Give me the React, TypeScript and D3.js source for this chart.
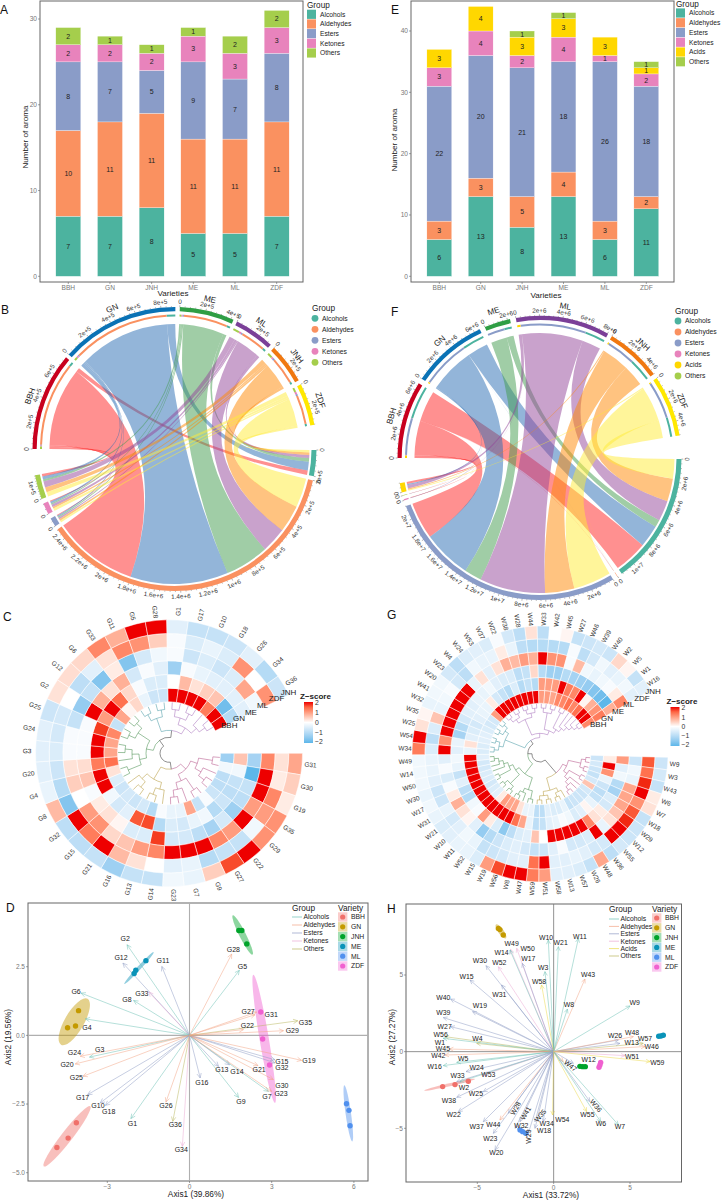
import * as d3 from 'd3';

const FONT = '"Liberation Sans", Arial, sans-serif';

// shared categories and colours
const varieties = ['BBH', 'GN', 'JNH', 'ME', 'ML', 'ZDF'];
const groupColors: Record<string, string> = {
  Alcohols: '#4CB39F',
  Aldehydes: '#FA9160',
  Esters: '#8A9CC8',
  Ketones: '#E883BC',
  Acids: '#FFD700',
  Others: '#A5CE4C',
};
const arrowColors: Record<string, string> = {
  Alcohols: '#6CC0B4',
  Aldehydes: '#F2A585',
  Esters: '#8F9CC4',
  Ketones: '#EBA9D2',
  Acids: '#EBD84A',
  Others: '#B9B65C',
};
const varietyColors: Record<string, string> = {
  BBH: '#F0706A',
  GN: '#C49A00',
  JNH: '#00A32A',
  ME: '#0A93B8',
  ML: '#5090EE',
  ZDF: '#F060D0',
};

// panels A and E: number of aroma
const groupsA = ['Alcohols', 'Aldehydes', 'Esters', 'Ketones', 'Others'];
const alcoholsA = [7, 7, 8, 5, 5, 7];
const aldehydesA = [10, 11, 11, 11, 11, 11];
const estersA = [8, 7, 5, 9, 7, 8];
const ketonesA = [2, 2, 2, 3, 3, 3];
const othersA = [2, 1, 1, 1, 2, 2];
const seriesA = [alcoholsA, aldehydesA, estersA, ketonesA, othersA];

const groupsE = ['Alcohols', 'Aldehydes', 'Esters', 'Ketones', 'Acids', 'Others'];
const alcoholsE = [6, 13, 8, 13, 6, 11];
const aldehydesE = [3, 3, 5, 4, 3, 2];
const estersE = [22, 20, 21, 18, 26, 18];
const ketonesE = [3, 4, 2, 4, 1, 2];
const acidsE = [3, 4, 3, 3, 3, 1];
const othersE = [0, 0, 1, 1, 0, 1];
const seriesE = [alcoholsE, aldehydesE, estersE, ketonesE, acidsE, othersE];

// panels B and F: chord flows, variety by group
const chordVarieties = ['BBH', 'GN', 'ME', 'ML', 'JNH', 'ZDF'];
const chordTrack: Record<string, string> = {
  BBH: '#C8001E',
  GN: '#0A72B5',
  ME: '#2F9E44',
  ML: '#7B3F98',
  JNH: '#F07810',
  ZDF: '#FFE800',
};
const chordRibbon: Record<string, string> = {
  BBH: '#FF2121',
  GN: '#276BB3',
  ME: '#419B4D',
  ML: '#934599',
  JNH: '#FF8701',
  ZDF: '#FFEB35',
};
const chordGroupsB = ['Alcohols', 'Aldehydes', 'Esters', 'Ketones', 'Others'];
// values x 1e5
const flowsB = [
  [0.35, 6.84, 0.06, 0.08, 0.2],
  [0.7, 7.9, 0.1, 0.15, 0.25],
  [0.3, 3.55, 0.1, 0.1, 0.15],
  [0.25, 2.03, 0.12, 0.2, 0.5],
  [0.2, 2.2, 0.15, 0.15, 0.4],
  [0.2, 2.35, 0.15, 0.2, 0.35],
];
const gapsB = [1.6, 1.8, 1.6, 1.8, 1.8, 10.2, 1.7, 1.6, 2, 2, 10.7];
const chordGroupsF = ['Alcohols', 'Aldehydes', 'Esters', 'Ketones', 'Others', 'Acids'];
// values x 1e6
const flowsF = [
  [3, 0.02, 3.33, 0.05, 0.03, 0.2],
  [2, 0.01, 4.38, 0.02, 0.01, 0.1],
  [0.67, 0, 1.56, 0, 0, 0],
  [1.83, 0, 5.9, 0.02, 0, 0.3],
  [2.06, 0, 2.63, 0.01, 0, 0.1],
  [1.75, 0.01, 3.4, 0, 0, 0.1],
];
const gapsF = [2.2, 2.2, 2.4, 1.8, 2, 9.6, 2, 2, 2.4, 1.5, 1.2, 10.2];

// panel C: heatmap
const genesC = ['G31', 'G30', 'G19', 'G35', 'G29', 'G22', 'G27', 'G9', 'G7', 'G23', 'G14', 'G13', 'G16', 'G21', 'G15', 'G32', 'G8', 'G4', 'G20', 'G3', 'G24', 'G25', 'G2', 'G12', 'G6', 'G33', 'G11', 'G5', 'G28', 'G1', 'G17', 'G10', 'G18', 'G26', 'G34', 'G36'];
const zBBHC = [-1.3, -0.2, -0.9, -0.9, -0.7, -0.1, -0.8, 0.9, -0.3, -0.3, -0.1, -1, -0.6, -0.7, -0.6, -0.7, -0.5, 0.3, 1.4, 0.9, 0.9, 1.2, -0.8, 0.9, 0.1, 0.4, -0.3, -0.7, -0.7, 2, 2, 2, 2, 1.3, 2, 2];
const zGNC = [0.6, -0.2, -0.8, -0.9, -0.7, -1, -0.2, -0.3, -0.6, -0.5, -1, 1.7, 1.6, -0.4, -0.6, -0.2, 2, 2, 1.3, 2, 2, 1.8, 1, 2, 1.4, 0.4, -0.1, -0.5, -0.5, 0, 0.7, 0.3, 0.5, 0.6, -1.8, -1];
const zMEC = [-1.2, -2, -0.8, -0.9, -1.3, -0.6, -1.2, -0.9, -0.6, -0.6, 1.8, -0.5, -0.5, 0.1, 0.3, 0.2, -0.1, 0.6, 0.35, -0.1, -0.1, -0.1, 2, 0.8, 0.3, 0.8, -0.6, -0.1, -0.4, -1.3, -0.1, -0.3, -0.4, -0.4, -0.4, -0.4];
const zMLC = [1.2, 2, 2, 1, 2, 1, 1.2, 2, 2, 2, 1.2, 1, 0.6, 0.4, 1.1, 1, 0, 0.5, 0.3, -0.1, -0.1, -0.8, -1.4, -0.8, -1.6, 0.2, -1.6, -0.6, -0.2, -0.1, -0.7, -0.5, -0.7, -0.5, 0.9, -0.2];
const zZDFC = [0.3, 0.2, 1.2, 1, -0.2, -0.8, -0.8, -1, -0.3, -0.4, 0, 0.3, 0.7, 2, 1.3, 2, -1.6, -1, -0.7, -0.5, -0.6, -0.6, 0, -0.9, -0.4, 0.3, 1.2, 1.1, 0.5, -0.1, -0.5, -0.3, -0.5, 1.1, 0, 1.1];
const zJNHC = [0.9, 0.5, 0.2, 1.1, 1.1, 2, 1.7, 0.5, -0.3, -0.2, -0.8, -0.8, -1.3, -0.8, -0.9, -0.9, 0.7, -0.3, -0.4, -0.4, -0.4, -0.7, 0.3, 0.35, 0.4, 1.2, 0.8, 2, 2, -0.4, -0.8, -0.8, -0.7, -0.4, -1, -0.7];
const treeC = [[[[[0, 1], [2, [3, 4]]], [[5, 6], [7, [8, 9]]]], [[10, [11, 12]], [[13, 14], 15]]], [[[[16, 17], [18, [19, 20]]], [[21, 22], [23, 24]]], [[[25, 26], [27, 28]], [[[29, 30], [31, 32]], [33, [34, 35]]]]]];
const clusterEndsC = [9, 15, 24, 28, 35];

// panel G: heatmap
const genesG = ['W9', 'W3', 'W43', 'W6', 'W7', 'W18', 'W29', 'W12', 'W55', 'W36', 'W48', 'W26', 'W57', 'W13', 'W58', 'W51', 'W59', 'W47', 'W8', 'W56', 'W19', 'W15', 'W52', 'W11', 'W10', 'W21', 'W31', 'W17', 'W30', 'W50', 'W14', 'W49', 'W34', 'W54', 'W25', 'W35', 'W32', 'W41', 'W20', 'W23', 'W4', 'W24', 'W53', 'W37', 'W22', 'W38', 'W28', 'W44', 'W33', 'W42', 'W45', 'W27', 'W46', 'W39', 'W40', 'W2', 'W5', 'W1', 'W16'];
const zBBHG = [-0.7, -0.6, -0.7, -0.8, -0.6, 0.6, -0.6, -0.7, -0.7, -0.7, -0.8, -0.3, -0.5, -0.5, -0.4, -0.9, -0.9, -0.3, -0.3, 0.3, 0.9, 0.9, 1, 0.2, -0.4, -0.5, -0.6, -0.5, -0.5, -0.6, -0.6, -0.4, -0.5, -0.5, -0.4, -0.4, -0.5, -0.6, -0.6, 1, 2, 2, 2, 2, 2, 2, 2, 2, 1, 1, 0.9, 1.2, 1.2, 1.4, 1.2, 1.4, 2, 2, 1.2];
const zGNG = [0.2, 2, 1.1, -0.3, -0.7, -0.9, -0.8, -0.3, 0.1, -0.4, -0.5, -0.2, -0.1, -0.3, -0.4, -0.8, -0.9, -0.3, 0.9, 1.4, 2, 2, 2, 2, 2, 2, 2, 2, 2, 2, 2, 2, -0.3, 0.3, -0.4, -0.5, -0.6, -0.4, -0.3, -0.3, 0.2, -0.6, -0.8, -1, -0.5, -1, -0.8, -1, 1, 1, 1, 2, 1.3, 1.2, 2, 0.1, 0.8, 1.1, 1.3];
const zMEG = [1, -0.4, -0.2, -1, -1.2, -0.5, -0.6, 0.2, 0.3, 1.2, 2, 2, 2, 2, 2, 0, 0.6, -0.4, -0.5, -0.9, -1.5, -0.5, 0.2, 1, -0.1, -0.2, -1, -0.9, -0.4, -0.8, -0.3, -0.2, -0.4, -0.3, -1.2, -1, -0.6, -0.4, -0.4, -0.3, -0.3, -0.2, -0.4, -0.5, -0.5, -0.9, -0.8, 0.4, -1, -1.3, -1.3, -1, -1.2, -1.3, -1.4, -1.6, -1.8, -2, 0.8];
const zMLG = [-0.7, -0.2, -0.3, 0.9, 0.9, 0.9, 0.6, 0.3, -0.3, 2, -0.5, -0.6, -0.6, -0.1, -0.4, -0.7, -0.8, -0.6, -0.4, -0.5, -0.7, -1, -1.4, -0.4, 0.1, 0.3, 0.8, 0.2, -0.1, -0.5, -0.1, -0.4, 2, 1.1, 2, 2, 2, 2, 2, 2, -0.3, 0.3, -0.4, 0.3, 0.8, 0.7, 1, 0.8, 2, 1.1, 1.1, -0.1, 0.7, -0.2, -0.3, -0.2, -0.1, 0.2, 1.2];
const zZDFG = [1.6, 1.4, 1.9, 2, 1.1, 1.6, 1.9, 2, 2, -0.6, -0.6, -0.4, -0.3, -0.4, -0.4, 2, 1.4, -0.4, -0.4, -0.6, -0.7, -0.8, -0.3, -0.2, -0.4, -0.6, -0.3, -0.7, -0.7, -0.4, -0.3, -0.3, -0.5, -0.9, -0.5, 0.6, -0.3, -0.2, -0.1, -0.6, -0.9, -0.2, -0.3, -0.3, 0.2, -0.3, -0.9, -1, -1, -1, -1, -0.1, -0.9, -0.6, -0.2, -0.4, -0.3, -0.2, -0.4];
const zJNHG = [-0.7, -0.6, -0.8, 0.2, 0.3, -0.8, -0.7, -0.7, -0.6, -0.9, 0.9, -0.8, -0.5, -0.4, -0.4, 1, 1.3, 2, 2, 1.7, 1, -0.5, -0.3, -0.3, -0.4, -0.5, -0.3, -0.2, -0.3, -0.2, -0.2, -0.2, 1.3, 2, 0.3, 0.1, -0.3, -0.2, -0.2, -0.6, -0.9, -0.5, -0.4, -0.5, -0.1, -0.6, -0.9, 0.3, -0.9, 0, 0.1, -0.8, -0.7, -0.6, -0.7, 0.4, 0.1, -0.8, -0.4];
const treeG = [[[[[0, 1], [2, 3]], [[4, 5], [6, [7, [8, 9]]]]], [[10, [11, 12]], [[13, 14], [15, 16]]]], [[[[17, 18], [19, [20, 21]]], [[[22, 23], [24, 25]], [[26, 27], [28, [29, [30, 31]]]]]], [[[[32, 33], [34, 35]], [[36, 37], [38, 39]]], [[[[40, 41], [42, 43]], [[44, 45], [46, 47]]], [[[48, 49], [50, 51]], [[52, 53], [54, [55, [56, [57, 58]]]]]]]]]];
const clusterEndsG = [9, 16, 31, 39, 58];
const heatRows = ['BBH', 'GN', 'ME', 'ML', 'ZDF', 'JNH'];
const zTicks = [2, 1, 0, -1, -2];

// panel D: biplot
const genesD = ['G2', 'G12', 'G11', 'G6', 'G33', 'G8', 'G4', 'G3', 'G24', 'G20', 'G25', 'G17', 'G10', 'G18', 'G1', 'G26', 'G36', 'G34', 'G16', 'G13', 'G14', 'G9', 'G21', 'G7', 'G23', 'G30', 'G15', 'G32', 'G19', 'G29', 'G35', 'G22', 'G27', 'G31', 'G5', 'G28'];
const axis1D = [-2.28, -2.43, -1.01, -3.96, -1.49, -2.04, -3.8, -3.65, -3.99, -4.17, -3.89, -3.72, -3.26, -3.07, -2.14, -0.86, -0.61, -0.26, 0.39, 1.06, 1.46, 1.79, 2.5, 2.88, 3, 3.06, 3.12, 3.12, 4.09, 3.43, 3.95, 1.97, 2.39, 2.45, 1.82, 1.54];
const axis2D = [3.3, 2.63, 2.51, 1.54, 1.58, 1.27, 0.6, -0.79, -0.76, -1.04, -1.49, -2.16, -2.46, -2.55, -3.03, -2.43, -3.13, -4.04, -1.55, -1.13, -1.07, -2.26, -1.1, -2.04, -2.04, -1.61, -0.89, -1, -0.91, 0.17, 0.53, 0.21, 0.75, 0.85, 2.37, 2.96];
const labelXD = [-2.35, -2.5, -0.97, -4.14, -1.74, -2.28, -3.74, -3.28, -4.2, -4.47, -4.13, -3.9, -3.34, -2.95, -2.08, -0.86, -0.52, -0.3, 0.45, 1.18, 1.73, 1.88, 2.54, 2.83, 3.34, 3.37, 3.37, 3.37, 4.36, 3.75, 4.23, 2.11, 2.14, 2.98, 1.93, 1.6];
const labelYD = [3.52, 2.82, 2.72, 1.58, 1.52, 1.3, 0.27, -0.5, -0.64, -1.07, -1.52, -2.28, -2.55, -2.77, -3.2, -2.55, -3.23, -4.15, -1.7, -1.25, -1.31, -2.4, -1.23, -2.23, -2.11, -1.81, -0.95, -1.17, -0.92, 0.18, 0.47, 0.36, 0.87, 0.75, 2.51, 3.12];
const membersD: Record<string, string[]> = {
  Alcohols: ['G1', 'G2', 'G3', 'G4', 'G5', 'G6', 'G7', 'G8', 'G9'],
  Aldehydes: ['G19', 'G20', 'G21', 'G22', 'G23', 'G24', 'G25', 'G26', 'G27', 'G28', 'G29', 'G30', 'G31'],
  Esters: ['G10', 'G11', 'G12', 'G13', 'G14', 'G15', 'G16', 'G17', 'G18', 'G32'],
  Ketones: ['G33', 'G34'],
  Others: ['G35', 'G36'],
};
const pointsXD = [[-4.13, -4.43, -4.84], [-4.05, -4.16, -4.45], [1.8, 1.91, 2.09], [-1.59, -1.96, -2.02], [5.73, 5.82, 5.86], [2.6, 2.67, 2.92]];
const pointsYD = [[-3.18, -3.74, -4.08], [0.9, 0.34, 0.28], [3.82, 3.82, 3.33], [2.72, 2.37, 2.25], [-2.49, -2.73, -3.29], [0.85, -0.13, -1.08]];
const ellipseTipsD = [[-5.32, -4.77, -3.62, -2.58], [-4.69, -0.34, -3.72, 1.33], [1.58, 4.37, 2.3, 2.94], [-2.38, 1.87, -1.31, 3.03], [5.65, -1.82, 5.94, -3.86], [2.33, 2.21, 3.12, -2.46]];
const ellipseWidthD = [0.2, 0.35, 0.12, 0.07, 0.1, 0.17];

// panel H: biplot
const genesH = ['W11', 'W10', 'W21', 'W49', 'W50', 'W14', 'W17', 'W30', 'W52', 'W3', 'W15', 'W58', 'W43', 'W31', 'W40', 'W19', 'W8', 'W9', 'W39', 'W27', 'W56', 'W4', 'W1', 'W45', 'W42', 'W5', 'W16', 'W24', 'W33', 'W53', 'W2', 'W25', 'W38', 'W22', 'W37', 'W44', 'W23', 'W20', 'W28', 'W41', 'W32', 'W29', 'W35', 'W34', 'W18', 'W54', 'W47', 'W12', 'W36', 'W55', 'W6', 'W7', 'W26', 'W48', 'W13', 'W57', 'W46', 'W51', 'W59'];
const axis1H = [1.62, -0.35, 0.31, -2.82, -2.42, -2.86, -2.05, -4.43, -3.62, -0.57, -5.48, -0.79, 2.05, -3.41, -6.75, -5.31, 0.9, 5, -7.23, -6.75, -7.12, -5.04, -7.23, -6.83, -7.12, -6.35, -7.23, -5.74, -6.35, -4.61, -6.14, -4.61, -6.35, -6.24, -4.61, -3.52, -3.95, -3.84, -2.97, -2.21, -2.53, -1.66, -1.22, -0.68, -1.22, -0.07, 0.63, 1.29, 2.38, 2.16, 3.08, 4.24, 4.24, 5.22, 4.34, 5.87, 5.98, 4.67, 6.31];
const axis2H = [7.39, 7.28, 6.85, 6.67, 6.74, 6.63, 5.76, 5.61, 5.54, 5.22, 4.67, 4.35, 4.74, 4.35, 3.43, 2.61, 2.78, 2.98, 2.22, 1.63, 0.98, 0.54, 0.87, 0.17, -0.22, -0.7, -0.91, -1.3, -1.96, -1.52, -1.96, -2.61, -2.98, -3.91, -4.57, -4.46, -5.33, -6.41, -4.02, -4.57, -5, -5.33, -4.57, -4.57, -5, -4.13, -0.65, -0.76, -3.26, -3.91, -4.57, -4.78, 0.76, 0.98, 0.54, 0.54, 0.33, -0.26, -0.65];
const labelXH = [1.72, -0.5, 0.46, -2.75, -1.7, -3.41, -1.66, -4.83, -3.56, -0.68, -5.7, -0.96, 2.25, -3.56, -7.23, -4.83, 1, 5.31, -7.23, -7.14, -7.4, -5, -7.45, -7.25, -7.55, -5.92, -7.79, -5.04, -6.29, -4.28, -5.87, -5.09, -6.86, -6.55, -5.04, -3.95, -4.15, -3.76, -2.49, -1.83, -2.12, -1.62, -0.87, -0.46, -0.63, 0.57, 1.11, 2.29, 2.77, 2.21, 3.1, 4.34, 4.02, 5.13, 5.11, 5.98, 6.42, 5.13, 6.79];
const labelYH = [7.5, 7.46, 7.11, 7.07, 6.74, 6.46, 6.04, 5.91, 5.83, 5.48, 4.89, 4.57, 5.04, 3.74, 3.52, 2.98, 3.04, 3.22, 2.54, 1.65, 1.13, 0.83, 0.61, 0.2, -0.24, -0.46, -1, -1.02, -1.54, -1.48, -2.33, -2.76, -3.2, -4.13, -4.89, -4.74, -5.67, -6.59, -3.7, -4.02, -4.83, -5.54, -4.17, -4.7, -5.17, -4.46, -0.91, -0.5, -3.52, -4.09, -4.72, -4.89, 1.04, 1.22, 0.59, 0.87, 0.3, -0.3, -0.72];
const labelTurnH: Record<string, number> = { W28: -60, W41: -60, W29: -90, W35: -50, W47: 40, W36: 50 };
const membersH: Record<string, string[]> = {
  Alcohols: ['W1', 'W2', 'W3', 'W5', 'W6', 'W7', 'W8', 'W9', 'W10', 'W11', 'W14', 'W16', 'W21'],
  Aldehydes: ['W42', 'W43', 'W44', 'W45', 'W46', 'W47', 'W48'],
  Esters: ['W12', 'W13', 'W15', 'W17', 'W18', 'W19', 'W20', 'W22', 'W23', 'W24', 'W25', 'W26', 'W27', 'W28', 'W29', 'W30', 'W31', 'W32', 'W33', 'W34', 'W35', 'W36', 'W37', 'W38', 'W39', 'W40', 'W41'],
  Ketones: ['W49', 'W50', 'W51', 'W52', 'W53'],
  Acids: ['W54', 'W55', 'W58', 'W59'],
  Others: ['W4', 'W56', 'W57'],
};
const pointsXH = [[-7.27, -6.46, -5.59], [-3.62, -3.52, -3.3], [1.72, 1.9, 2.07], [6.88, 7.03, 7.18], [-2.2, -2.03, -1.83], [3.08, 3.03, 2.97]];
const pointsYH = [[-2.28, -2.15, -1.93], [8.04, 7.96, 7.61], [-0.96, -0.98, -0.98], [1, 1.02, 1.07], [-5.11, -5.22, -5.33], [-0.7, -0.87, -1.02]];
const ellipseTipsH = [[-8.47, -2.54, -5.15, -1.78], [-3.78, 8.3, -3.12, 7.39], [1.55, -0.96, 2.25, -0.98], [6.7, 0.97, 7.35, 1.1], [-2.4, -4.98, -1.65, -5.42], [3.15, -0.58, 2.9, -1.15]];
const ellipseWidthH = [0.1, 0.18, 0.12, 0.15, 0.15, 0.12];

const heatColor = d3
  .scaleLinear<string>()
  .domain([-2, 0, 2])
  .range(['#5DB7EA', '#FFFFFF', '#EE0000'])
  .interpolate(d3.interpolateLab)
  .clamp(true);

const polar = (cx: number, cy: number, r: number, deg: number): [number, number] => {
  const a = (deg * Math.PI) / 180;
  return [cx + r * Math.sin(a), cy - r * Math.cos(a)];
};
const rad = (deg: number) => (deg * Math.PI) / 180;

function PanelTag({ x, y, t }: any) {
  return (
    <text x={x} y={y} fontSize={12} fill='#111'>
      {t}
    </text>
  );
}

function Bars({ series, groups, yMax, yTicks, yRange, xRange, box, legendX, legendKeyY, titleAxis, tickRightX }: any) {
  const rows = varieties.map((v, i) => {
    const row: any = { variety: v };
    groups.forEach((g: string, j: number) => (row[g] = series[j][i]));
    return row;
  });
  const stacked = d3.stack().keys(groups)(rows);
  const x = d3.scaleBand().domain(varieties).range(xRange).paddingInner(0.4).paddingOuter(0.2);
  const y = d3.scaleLinear().domain([0, yMax]).range(yRange);

  return (
    <g>
      {stacked.map((layer: any, j: number) => (
        <g key={j}>
          {layer.map((d: any, i: number) =>
            d[1] > d[0] ? (
              <g key={i}>
                <rect
                  x={x(varieties[i])}
                  width={x.bandwidth()}
                  y={y(d[1])}
                  height={y(d[0]) - y(d[1])}
                  fill={groupColors[groups[j]]}
                  stroke='#fff'
                  strokeWidth={0.3}
                />
                <text
                  x={x(varieties[i])! + x.bandwidth() / 2}
                  y={y((d[0] + d[1]) / 2)}
                  dy='.35em'
                  textAnchor='middle'
                  fontSize={7}
                  fill='#222'>
                  {d[1] - d[0]}
                </text>
              </g>
            ) : null
          )}
        </g>
      ))}
      <rect x={box[0]} y={box[1]} width={box[2] - box[0]} height={box[3] - box[1]} fill='none' stroke='#666' strokeWidth={1} />
      {yTicks.map((t: number) => (
        <g key={t}>
          <line x1={box[0] - 2} x2={box[0]} y1={y(t)} y2={y(t)} stroke='#666' strokeWidth={0.6} />
          <text x={tickRightX} y={y(t)} dy='.35em' textAnchor='end' fontSize={6.6} fill='#777'>
            {t}
          </text>
        </g>
      ))}
      {varieties.map((v) => (
        <g key={v}>
          <line
            x1={x(v)! + x.bandwidth() / 2}
            x2={x(v)! + x.bandwidth() / 2}
            y1={box[3]}
            y2={box[3] + 2}
            stroke='#666'
            strokeWidth={0.6}
          />
          <text x={x(v)! + x.bandwidth() / 2} y={288} dy='.35em' textAnchor='middle' fontSize={6.6} fill='#777'>
            {v}
          </text>
        </g>
      ))}
      <text x={titleAxis[0]} y={293 + titleAxis[2]} textAnchor='middle' dy='.35em' fontSize={8.1} fill='#222'>
        Varieties
      </text>
      <text
        transform={`translate(${titleAxis[1]},${titleAxis[3]}) rotate(-90)`}
        textAnchor='middle'
        dy='.35em'
        fontSize={8.1}
        fill='#222'>
        Number of aroma
      </text>
      <text x={legendX} y={legendKeyY[0] - 6} fontSize={8.2} fill='#222'>
        Group
      </text>
      {groups.map((g: string, i: number) => (
        <g key={g}>
          <rect x={legendX} y={legendKeyY[0] + i * legendKeyY[1] - 4.6} width={9} height={9.2} fill={groupColors[g]} />
          <text x={legendX + 13} y={legendKeyY[0] + i * legendKeyY[1]} dy='.35em' fontSize={6.7} fill='#222'>
            {g}
          </text>
        </g>
      ))}
    </g>
  );
}

function ChordPanel({ cx, cy, R, rows, cols, flows, unit, gaps, colSteps, step, legend }: any) {
  const rowTotals = flows.map((r: number[]) => d3.sum(r));
  const colTotals = cols.map((_: string, j: number) => d3.sum(flows, (r: number[]) => r[j]));
  const k = (360 - d3.sum(gaps)) / ((d3.sum(rowTotals) as number) + (d3.sum(colTotals) as number));

  // sectors clockwise from the left side
  let pos = 270;
  const sectors: any[] = [];
  [...rows, ...cols].forEach((name: string, i: number) => {
    const total = i < rows.length ? rowTotals[i] : colTotals[i - rows.length];
    sectors.push({ name, isRow: i < rows.length, index: i, total, start: pos, end: pos + total * k });
    pos += total * k + gaps[i];
  });

  const rowSegs = rows.map(() => [] as any[]);
  const colSegs = cols.map(() => [] as any[]);
  rows.forEach((_: string, i: number) => {
    let a = sectors[i].start;
    for (let j = cols.length - 1; j >= 0; j--) {
      rowSegs[i][j] = { startAngle: rad(a), endAngle: rad(a + flows[i][j] * k), radius: R - 17 };
      a += flows[i][j] * k;
    }
  });
  cols.forEach((_: string, j: number) => {
    let a = sectors[rows.length + j].start;
    for (let i = rows.length - 1; i >= 0; i--) {
      colSegs[j][i] = { startAngle: rad(a), endAngle: rad(a + flows[i][j] * k), radius: R - 7 };
      a += flows[i][j] * k;
    }
  });

  const ribbon = d3.ribbon();
  const bandRow = d3.arc().innerRadius(R - 4.2).outerRadius(R);
  const bandInner = d3.arc().innerRadius(R - 9.5).outerRadius(R - 7.5);
  const bandCol = d3.arc().innerRadius(R - 5).outerRadius(R);

  return (
    <g>
      <g transform={`translate(${cx},${cy})`}>
        {rows.map((name: string, i: number) =>
          cols.map((_: string, j: number) =>
            flows[i][j] > 0 ? (
              <path
                key={`${i}-${j}`}
                d={ribbon({ source: rowSegs[i][j], target: colSegs[j][i] } as any) as any}
                fill={chordRibbon[name]}
                fillOpacity={0.5}
              />
            ) : null
          )
        )}
        {sectors.map((s) => {
          const arcAngles = { startAngle: rad(s.start), endAngle: rad(s.end) } as any;
          return (
            <g key={s.name}>
              {s.isRow ? (
                <path d={bandRow(arcAngles) as any} fill={chordTrack[s.name]} />
              ) : (
                <path d={bandCol(arcAngles) as any} fill={groupColors[s.name]} />
              )}
              {s.isRow &&
                cols.map((g: string, j: number) => (
                  <path
                    key={g}
                    d={bandInner({ startAngle: rowSegs[s.index][j].startAngle, endAngle: rowSegs[s.index][j].endAngle } as any) as any}
                    fill={groupColors[g]}
                  />
                ))}
            </g>
          );
        })}
      </g>
      {sectors.map((s) => {
        const major = (colSteps && colSteps[s.name]) || step;
        const minor = major / 5;
        const count = Math.floor((s.total * unit) / minor + 1e-6);
        const ticks = d3.range(0, count + 1);
        const mid = (s.start + s.end) / 2;
        const flip = (deg: number) => {
          const a = ((deg % 360) + 360) % 360;
          return a > 90 && a < 270 ? a + 180 : a;
        };
        const namePt = polar(cx, cy, R + 12, mid);
        return (
          <g key={s.name}>
            {ticks.map((n: number) => {
              const v = n * minor;
              const deg = s.start + (v / unit) * k;
              const isMajor = n % 5 === 0;
              const p0 = polar(cx, cy, R, deg);
              const p1 = polar(cx, cy, R + (isMajor ? 1.8 : 0.9), deg);
              const pt = polar(cx, cy, R + 5.5, deg);
              return (
                <g key={n}>
                  <line x1={p0[0]} y1={p0[1]} x2={p1[0]} y2={p1[1]} stroke='#222' strokeWidth={0.35} />
                  {isMajor && (
                    <text
                      transform={`translate(${pt[0]},${pt[1]}) rotate(${flip(deg)})`}
                      textAnchor='middle'
                      dy='.35em'
                      fontSize={6.3}
                      fill='#333'>
                      {v === 0 ? '0' : (+v.toPrecision(3)).toExponential()}
                    </text>
                  )}
                </g>
              );
            })}
            {s.isRow && (
              <text
                transform={`translate(${namePt[0]},${namePt[1]}) rotate(${flip(mid)})`}
                textAnchor='middle'
                dy='.35em'
                fontSize={8.2}
                fill='#222'>
                {s.name}
              </text>
            )}
          </g>
        );
      })}
      <text x={legend.x - 3} y={legend.y - 7} fontSize={8.3} fill='#222'>
        Group
      </text>
      {legend.groups.map((g: string, i: number) => (
        <g key={g}>
          <circle cx={legend.x} cy={legend.y + i * 11} r={3.4} fill={groupColors[g]} />
          <text x={legend.x + 7} y={legend.y + i * 11} dy='.35em' fontSize={6.8} fill='#222'>
            {g}
          </text>
        </g>
      ))}
    </g>
  );
}

function Heat({ id, cx, cy, r0, r1, start, end, genes, rings, tree, clusterEnds, clusterColors, labelR, rootR, rowAngle, legend }: any) {
  const nRings = rings.length;
  const w = (r1 - r0) / nRings;
  const cell = (end - start) / genes.length;
  const arc = d3.arc();

  const root = d3.hierarchy(tree, (d: any) => (Array.isArray(d) ? d : null));
  d3.cluster().size([end - start, 1]).separation(() => 1)(root as any);
  const leafR = r0 - 0.5;
  const rScale = d3.scaleLinear().domain([0, root.height]).range([leafR, rootR]);
  const clusterOf = (leaf: number) => clusterEnds.findIndex((e: number) => leaf <= e);

  const links = root.descendants().filter((n: any) => n.parent);

  return (
    <g>
      {rings.map((ring: number[], j: number) =>
        ring.map((v: number, i: number) => (
          <path
            key={`${j}-${i}`}
            transform={`translate(${cx},${cy})`}
            d={
              arc({
                innerRadius: r0 + j * w,
                outerRadius: r0 + (j + 1) * w,
                startAngle: rad(start + i * cell),
                endAngle: rad(start + (i + 1) * cell),
              } as any) as any
            }
            fill={heatColor(v)}
            stroke='#fff'
            strokeWidth={0.5}
          />
        ))
      )}
      {links.map((n: any, i: number) => {
        const rc = rScale(n.height);
        const rp = rScale(n.parent.height);
        const ac = start + n.x;
        const ap = start + n.parent.x;
        const p0 = polar(cx, cy, rc, ac);
        const p1 = polar(cx, cy, rp, ac);
        const path = d3.path();
        path.moveTo(p0[0], p0[1]);
        path.lineTo(p1[0], p1[1]);
        path.arc(cx, cy, rp, rad(ac - 90), rad(ap - 90), ac > ap);
        const ids = n.leaves().map((l: any) => clusterOf(l.data));
        const same = ids.every((c: number) => c === ids[0]);
        return <path key={i} d={path.toString()} fill='none' stroke={same ? clusterColors[ids[0]] : '#333'} strokeWidth={0.55} />;
      })}
      {genes.map((g: string, i: number) => {
        const deg = start + (i + 0.5) * cell;
        const a = ((deg % 360) + 360) % 360;
        const p = polar(cx, cy, labelR, deg);
        return (
          <text
            key={g}
            transform={`translate(${p[0]},${p[1]}) rotate(${a < 180 ? a - 90 : a + 90})`}
            textAnchor='middle'
            dy='.35em'
            fontSize={6.5}
            fill='#333'>
            {g}
          </text>
        );
      })}
      {heatRows.map((name, j) => {
        const p = polar(cx, cy, r0 + (j + 0.5) * w, rowAngle);
        return (
          <text key={name} x={p[0] + 1} y={p[1]} dy='.35em' fontSize={8} fill='#222'>
            {name}
          </text>
        );
      })}
      <defs>
        <linearGradient id={id} x1='0' x2='0' y1='0' y2='1'>
          {d3.range(0, 9).map((i: number) => (
            <stop key={i} offset={`${(i / 8) * 100}%`} stopColor={heatColor(2 - i / 2)} />
          ))}
        </linearGradient>
      </defs>
      <text x={legend.x - 4} y={legend.y - 3} fontSize={8} fontWeight='bold' fill='#222'>
        Z−score
      </text>
      <rect x={legend.x} y={legend.y} width={9} height={legend.h} fill={`url(#${id})`} />
      {zTicks.map((t, i) => (
        <text
          key={t}
          x={legend.x + 11}
          y={legend.y + 1 + (i * (legend.h - 2)) / 4}
          dy='.35em'
          fontSize={6.8}
          fill='#333'>
          {String(t).replace('-', '−')}
        </text>
      ))}
    </g>
  );
}

function Biplot({ box, xDomain, xRange, yDomain, yRange, xTicks, yTicks, yFormat, genes, ax1, ax2, labelX, labelY, turns, members, ptsX, ptsY, tips, widths, titleX, titleY, axisStyle, legend, headLen, fontSize }: any) {
  const x = d3.scaleLinear().domain(xDomain).range(xRange);
  const y = d3.scaleLinear().domain(yDomain).range(yRange);
  const unitPx = Math.abs(x(1) - x(0));
  const groupOf = (g: string) => Object.keys(members).find((k) => members[k].includes(g)) as string;

  return (
    <g>
      <rect x={box[0]} y={box[1]} width={box[2] - box[0]} height={box[3] - box[1]} fill='#fff' stroke='#666' strokeWidth={1} />
      <line x1={box[0]} x2={box[2]} y1={y(0)} y2={y(0)} stroke={axisStyle[0]} strokeWidth={axisStyle[1]} />
      <line x1={x(0)} x2={x(0)} y1={box[1]} y2={box[3]} stroke={axisStyle[0]} strokeWidth={axisStyle[1]} />
      {varieties.map((v, i) => {
        const [x1, y1, x2, y2] = tips[i];
        const ax = x(x1);
        const ay = y(y1);
        const bx = x(x2);
        const by = y(y2);
        const len = Math.hypot(bx - ax, by - ay) / 2;
        const turn = (Math.atan2(by - ay, bx - ax) * 180) / Math.PI;
        return (
          <ellipse
            key={v}
            transform={`translate(${(ax + bx) / 2},${(ay + by) / 2}) rotate(${turn})`}
            rx={len}
            ry={widths[i] * unitPx}
            fill={varietyColors[v]}
            fillOpacity={0.45}
          />
        );
      })}
      {genes.map((g: string, i: number) => {
        const tx = x(ax1[i]);
        const ty = y(ax2[i]);
        const a = Math.atan2(ty - y(0), tx - x(0));
        const path = d3.path();
        path.moveTo(x(0), y(0));
        path.lineTo(tx, ty);
        path.moveTo(tx - headLen * Math.cos(a - 0.45), ty - headLen * Math.sin(a - 0.45));
        path.lineTo(tx, ty);
        path.lineTo(tx - headLen * Math.cos(a + 0.45), ty - headLen * Math.sin(a + 0.45));
        return <path key={g} d={path.toString()} fill='none' stroke={arrowColors[groupOf(g)]} strokeWidth={0.5} />;
      })}
      {varieties.map((v, i) =>
        ptsX[i].map((px: number, j: number) => <circle key={v + j} cx={x(px)} cy={y(ptsY[i][j])} r={2.7} fill={varietyColors[v]} />)
      )}
      {genes.map((g: string, i: number) => (
        <text
          key={g}
          transform={`translate(${x(labelX[i])},${y(labelY[i])}) rotate(${(turns && turns[g]) || 0})`}
          textAnchor='middle'
          dy='.35em'
          fontSize={fontSize}
          fill='#222'>
          {g}
        </text>
      ))}
      {xTicks.map((t: number) => (
        <g key={t}>
          <line x1={x(t)} x2={x(t)} y1={box[3]} y2={box[3] + 2} stroke='#666' strokeWidth={0.6} />
          <text x={x(t)} y={box[3] + 6} dy='.35em' textAnchor='middle' fontSize={6.5} fill='#777'>
            {String(t).replace('-', '−')}
          </text>
        </g>
      ))}
      {yTicks.map((t: number) => (
        <g key={t}>
          <line x1={box[0] - 2} x2={box[0]} y1={y(t)} y2={y(t)} stroke='#666' strokeWidth={0.6} />
          <text x={box[0] - 3} y={y(t)} dy='.35em' textAnchor='end' fontSize={6.5} fill='#777'>
            {yFormat(t).replace('-', '−')}
          </text>
        </g>
      ))}
      <text x={titleX[1]} y={titleX[2]} dy='.35em' textAnchor='middle' fontSize={8.3} fill='#222'>
        {titleX[0]}
      </text>
      <text transform={`translate(${titleY[1]},${titleY[2]}) rotate(-90)`} dy='.35em' textAnchor='middle' fontSize={8.3} fill='#222'>
        {titleY[0]}
      </text>
      <text x={legend.groupX} y={legend.titleY} dy='.35em' fontSize={8.3} fill='#222'>
        Group
      </text>
      {legend.groups.map((g: string, i: number) => (
        <g key={g}>
          <line
            x1={legend.groupX}
            x2={legend.groupX + 10}
            y1={legend.groupY + i * legend.groupStep}
            y2={legend.groupY + i * legend.groupStep}
            stroke={arrowColors[g]}
            strokeWidth={0.7}
          />
          <text x={legend.groupX + 11.5} y={legend.groupY + i * legend.groupStep} dy='.35em' fontSize={6.8} fill='#222'>
            {g}
          </text>
        </g>
      ))}
      <text x={legend.varX} y={legend.titleY} dy='.35em' fontSize={8.3} fill='#222'>
        Variety
      </text>
      {varieties.map((v, i) => (
        <g key={v}>
          <rect x={legend.varX} y={legend.varY + i * 9.8 - 4.7} width={9.4} height={9.4} fill={varietyColors[v]} fillOpacity={0.35} />
          <circle cx={legend.varX + 4.7} cy={legend.varY + i * 9.8} r={2.6} fill={varietyColors[v]} />
          <text x={legend.varX + 13} y={legend.varY + i * 9.8} dy='.35em' fontSize={6.8} fill='#222'>
            {v}
          </text>
        </g>
      ))}
    </g>
  );
}

export default function App() {
  const clusterColors = ['#B5558A', '#B59B3C', '#4A9050', '#4A9AA5', '#A974BD'];
  const fmt25 = d3.format('.1f');
  return (
    <svg width={721} height={1201} style={{ position: 'absolute', left: 0, top: 0, fontFamily: FONT, background: '#fff' }}>
      <Bars
        series={seriesA}
        groups={groupsA}
        yMax={30}
        yTicks={[0, 10, 20, 30]}
        yRange={[276.3, 19]}
        xRange={[47.46, 297.5]}
        box={[40, 1, 303, 282]}
        legendX={307}
        legendKeyY={[14.3, 9.67]}
        titleAxis={[173, 25, 0, 137]}
        tickRightX={37}
      />
      <Bars
        series={seriesE}
        groups={groupsE}
        yMax={40}
        yTicks={[0, 10, 20, 30, 40]}
        yRange={[276.3, 31]}
        xRange={[418.6, 667]}
        box={[411, 1, 674, 282]}
        legendX={676}
        legendKeyY={[13, 9.75]}
        titleAxis={[546, 394, 2, 140]}
        tickRightX={408}
      />
      <PanelTag x={0} y={14} t='A' />
      <PanelTag x={391} y={14} t='E' />

      <ChordPanel
        cx={174.5}
        cy={449}
        R={142}
        rows={chordVarieties}
        cols={chordGroupsB}
        flows={flowsB}
        unit={1e5}
        gaps={gapsB}
        step={2e5}
        colSteps={{ Others: 1e5 }}
        legend={{ x: 315, y: 318.3, groups: chordGroupsB }}
      />
      <ChordPanel
        cx={539.5}
        cy={458}
        R={142}
        rows={chordVarieties}
        cols={chordGroupsF}
        flows={flowsF}
        unit={1e6}
        gaps={gapsF}
        step={2e6}
        legend={{ x: 678, y: 321, groups: groupsE }}
      />
      <PanelTag x={1} y={314} t='B' />
      <PanelTag x={391} y={316} t='F' />

      <Heat
        id='zGradC'
        cx={169}
        cy={753.3}
        r0={51.5}
        r1={133.5}
        start={90}
        end={424}
        genes={genesC}
        rings={[zBBHC, zGNC, zMEC, zMLC, zZDFC, zJNHC]}
        tree={treeC}
        clusterEnds={clusterEndsC}
        clusterColors={clusterColors}
        labelR={142}
        rootR={9}
        rowAngle={61}
        legend={{ x: 304, y: 702, h: 41 }}
      />
      <Heat
        id='zGradG'
        cx={540}
        cy={754}
        r0={50.7}
        r1={128}
        start={91.5}
        end={420}
        genes={genesG}
        rings={[zBBHG, zGNG, zMEG, zMLG, zZDFG, zJNHG]}
        tree={treeG}
        clusterEnds={clusterEndsG}
        clusterColors={clusterColors}
        labelR={135}
        rootR={8}
        rowAngle={59}
        legend={{ x: 670.5, y: 707, h: 39 }}
      />
      <PanelTag x={3} y={621} t='C' />
      <PanelTag x={387} y={619} t='G' />

      <Biplot
        box={[28, 903, 368, 1181]}
        xDomain={[-3, 3]}
        xRange={[107.3, 271.7]}
        yDomain={[-5, 2.5]}
        yRange={[1172.7, 966.7]}
        xTicks={[-3, 0, 3, 6]}
        yTicks={[-5, -2.5, 0, 2.5]}
        yFormat={fmt25}
        genes={genesD}
        ax1={axis1D}
        ax2={axis2D}
        labelX={labelXD}
        labelY={labelYD}
        members={membersD}
        ptsX={pointsXD}
        ptsY={pointsYD}
        tips={ellipseTipsD}
        widths={ellipseWidthD}
        titleX={['Axis1 (39.86%)', 196, 1194]}
        titleY={['Axis2 (19.56%)', 8, 1037]}
        axisStyle={['#AFAFAF', 1.1]}
        legend={{ groups: groupsA, groupX: 292, groupY: 917, groupStep: 8, varX: 338, varY: 917, titleY: 908 }}
        headLen={5}
        fontSize={7}
      />
      <Biplot
        box={[406, 904, 681.5, 1182]}
        xDomain={[-5, 5]}
        xRange={[477.3, 630]}
        yDomain={[-5, 5]}
        yRange={[1128.3, 975]}
        xTicks={[-5, 0, 5]}
        yTicks={[-5, 0, 5]}
        yFormat={(t: number) => String(t)}
        genes={genesH}
        ax1={axis1H}
        ax2={axis2H}
        labelX={labelXH}
        labelY={labelYH}
        turns={labelTurnH}
        members={membersH}
        ptsX={pointsXH}
        ptsY={pointsYH}
        tips={ellipseTipsH}
        widths={ellipseWidthH}
        titleX={['Axis1 (33.72%)', 551, 1195]}
        titleY={['Axis2 (27.27%)', 392, 1037]}
        axisStyle={['#777', 0.8]}
        legend={{ groups: groupsE, groupX: 609, groupY: 919, groupStep: 7.4, varX: 652, varY: 918, titleY: 909 }}
        headLen={4.5}
        fontSize={6.9}
      />
      <PanelTag x={6} y={912} t='D' />
      <PanelTag x={387} y={913} t='H' />
    </svg>
  );
}
